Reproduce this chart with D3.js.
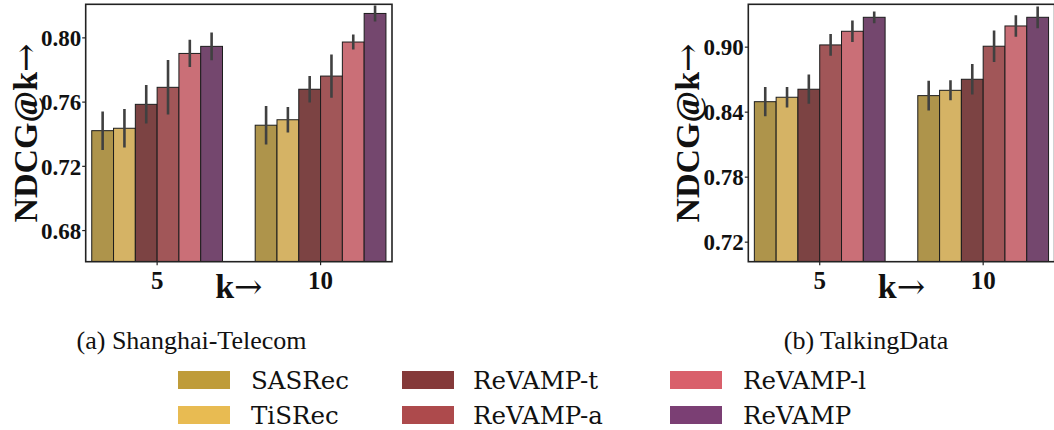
<!DOCTYPE html>
<html>
<head>
<meta charset="utf-8">
<script src="https://d3js.org/d3.v7.min.js"></script>
<style>
  body {margin: 0; background: #fff;}
  .tick text {font: bold 23px "Liberation Serif", serif; fill: #111;}
  .axlabel {font: bold 34px "Liberation Serif", serif; fill: #111;}
  .arrow {font-family: "DejaVu Serif", serif; font-weight: normal;}
  .caption {font: 26px "Liberation Serif", serif; fill: #111;}
  .legend text {font: 24.5px "DejaVu Serif", serif; fill: #111;}
</style>
</head>
<body>
<svg id="fig" width="1054" height="430"></svg>
<script>
// series and groups
var methods = ["SASRec", "TiSRec", "ReVAMP-t", "ReVAMP-a", "ReVAMP-l", "ReVAMP"];
var kValues = ["5", "10"];
var colors = ["#bf9c3a", "#e8bb52", "#853a3a", "#ad4a4c", "#d9606b", "#7b3f74"];

// Shanghai-Telecom: mean and error half-width, one row per k
var shanghaiMean = [[0.7419, 0.7434, 0.7583, 0.7689, 0.7900, 0.7944],
                    [0.7453, 0.7487, 0.7677, 0.7759, 0.7971, 0.8149]];
var shanghaiErr  = [[0.0120, 0.0120, 0.0120, 0.0170, 0.0085, 0.0086],
                    [0.0120, 0.0080, 0.0083, 0.0135, 0.0047, 0.0050]];
var shanghaiTicks = [0.68, 0.72, 0.76, 0.80];

// TalkingData
var talkingMean = [[0.8492, 0.8533, 0.8607, 0.9016, 0.9142, 0.9271],
                   [0.8548, 0.8597, 0.8699, 0.9004, 0.9191, 0.9271]];
var talkingErr  = [[0.0135, 0.0094, 0.0135, 0.0100, 0.0100, 0.0054],
                   [0.0137, 0.0092, 0.0140, 0.0145, 0.0100, 0.0100]];
var talkingTicks = [0.72, 0.78, 0.84, 0.90];

var svg = d3.select("#fig");

function desat(c) {
    var h = d3.hsl(c);
    h.s = h.s * 0.75;
    return h.formatHex();
}

function panel(id, left, means, errs, ydom, ticks, caption, capX) {
    var top = 4.3, width = 306.3, height = 257.4;
    var g = svg.append("g").attr("transform", "translate(" + left + "," + top + ")");

    g.append("clipPath").attr("id", "clip" + id)
        .append("rect").attr("width", width).attr("height", height);

    var x0 = d3.scaleBand().domain(kValues).range([0, width])
        .paddingInner(0.2).paddingOuter(0.037);
    var x1 = d3.scaleBand().domain(methods).range([0, x0.bandwidth()]);
    var y = d3.scaleLinear().domain(ydom).range([height, 0]);

    var rows = [];
    kValues.forEach(function(k, i) {
        methods.forEach(function(m, j) {
            rows.push({k: k, m: m, j: j, v: means[i][j], e: errs[i][j]});
        });
    });

    var plot = g.append("g").attr("clip-path", "url(#clip" + id + ")");

    plot.selectAll("rect.bar")
        .data(rows)
        .enter().append("rect")
        .attr("class", "bar")
        .attr("x", function(d) { return x0(d.k) + x1(d.m); })
        .attr("y", function(d) { return y(d.v); })
        .attr("width", x1.bandwidth())
        .attr("height", function(d) { return height - y(d.v) + 2; })
        .attr("fill", function(d) { return desat(colors[d.j]); })
        .attr("stroke", "#1c1c1c")
        .attr("stroke-width", 1);

    plot.selectAll("line.err")
        .data(rows)
        .enter().append("line")
        .attr("class", "err")
        .attr("x1", function(d) { return x0(d.k) + x1(d.m) + x1.bandwidth() / 2; })
        .attr("x2", function(d) { return x0(d.k) + x1(d.m) + x1.bandwidth() / 2; })
        .attr("y1", function(d) { return y(d.v - d.e); })
        .attr("y2", function(d) { return y(d.v + d.e); })
        .attr("stroke", "#404040")
        .attr("stroke-width", 2.6);

    // axes
    g.append("g")
        .attr("transform", "translate(0," + height + ")")
        .call(d3.axisBottom(x0).tickSize(3.5).tickPadding(1))
        .call(function(a) { a.select(".domain").remove(); })
        .call(function(a) { a.selectAll("line").attr("stroke", "#222").attr("stroke-width", 1.2); })
        .selectAll("text").attr("dy", "0.92em").style("font-size", "25px");

    g.append("g")
        .call(d3.axisLeft(y).tickValues(ticks).tickFormat(d3.format(".2f")).tickSize(3.5).tickPadding(1))
        .call(function(a) { a.select(".domain").remove(); })
        .call(function(a) { a.selectAll("line").attr("stroke", "#222").attr("stroke-width", 1.2); })
        .selectAll("text").attr("dy", "0.36em");

    g.append("rect")
        .attr("width", width).attr("height", height)
        .attr("fill", "none").attr("stroke", "#222").attr("stroke-width", 1.6);

    var yl = g.append("text")
        .attr("class", "axlabel")
        .attr("transform", "translate(-49," + height / 2 + ") rotate(-90)")
        .attr("text-anchor", "middle");
    yl.append("tspan").text("NDCG@k");
    yl.append("tspan").attr("class", "arrow").text("\u2192");

    var xl = g.append("text")
        .attr("class", "axlabel")
        .attr("x", width / 2)
        .attr("y", 294)
        .attr("text-anchor", "middle");
    xl.append("tspan").text("k");
    xl.append("tspan").attr("class", "arrow").text("\u2192");

    svg.append("text")
        .attr("class", "caption")
        .attr("x", capX).attr("y", 349)
        .attr("text-anchor", "middle")
        .text(caption);
}

panel("a", 85.7, shanghaiMean, shanghaiErr, [0.6603, 0.8206], shanghaiTicks, "(a) Shanghai-Telecom", 191.5);
panel("b", 748.3, talkingMean, talkingErr, [0.7015, 0.9391], talkingTicks, "(b) TalkingData", 866);

// legend, column-major: two rows
var legX = [178, 402, 670], legTextX = [251, 473, 743], legY = [371, 406];
var legend = svg.append("g").attr("class", "legend")
    .selectAll("g")
    .data(methods)
    .enter().append("g");

legend.append("rect")
    .attr("x", function(d, i) { return legX[Math.floor(i / 2)]; })
    .attr("y", function(d, i) { return legY[i % 2]; })
    .attr("width", 52).attr("height", 18)
    .attr("fill", function(d, i) { return colors[i]; });

legend.append("text")
    .attr("x", function(d, i) { return legTextX[Math.floor(i / 2)]; })
    .attr("y", function(d, i) { return legY[i % 2] + 17.5; })
    .text(function(d) { return d; });
</script>
</body>
</html>
